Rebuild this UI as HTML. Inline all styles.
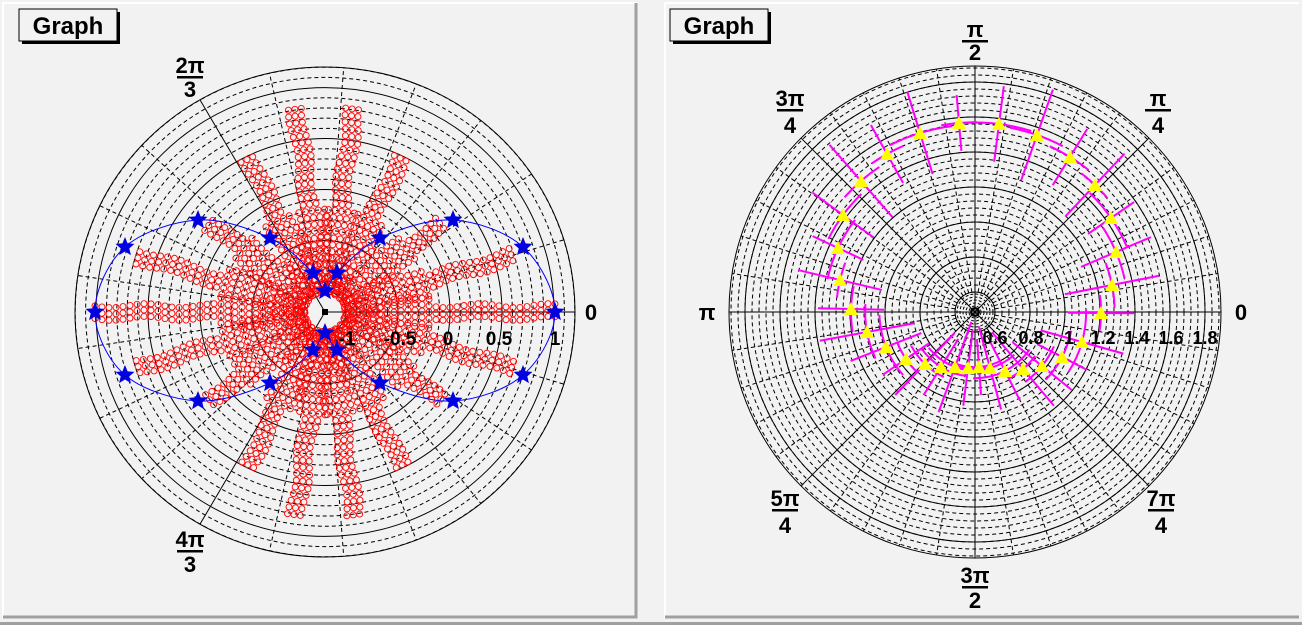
<!DOCTYPE html>
<html><head><meta charset="utf-8"><style>
html,body{margin:0;padding:0;background:#f2f2f2;}
svg{display:block;font-family:"Liberation Sans",Arial,sans-serif;}
text{font-weight:bold;fill:#000;}
</style></head><body>
<svg id="s" width="1302" height="625" xmlns="http://www.w3.org/2000/svg">
<rect x="0" y="0" width="1302" height="625" fill="#f2f2f2"/>
<rect x="0" y="622" width="1302" height="3" fill="#a0a0a0"/>
<rect x="3" y="3" width="634" height="615" fill="#f2f2f2"/>
<path d="M3 618 V3 H637" stroke="#fff" stroke-width="2" fill="none"/>
<path d="M3 617 H636 V3" stroke="#a0a0a0" stroke-width="3" fill="none"/>
<rect x="665" y="3" width="634" height="615" fill="#f2f2f2"/>
<path d="M665 618 V3 H1299" stroke="#fff" stroke-width="2" fill="none"/>
<path d="M665 617 H1299" stroke="#a0a0a0" stroke-width="3" fill="none"/>
<g id="L"></g>
<g id="R"></g>
<rect x="22" y="12" width="98" height="32" fill="#000"/>
<rect x="19" y="9" width="98" height="32" fill="#f2f2f2" stroke="#000" stroke-width="1"/>
<text x="68" y="34" font-size="24" text-anchor="middle">Graph</text>
<rect x="673" y="12" width="98" height="32" fill="#000"/>
<rect x="670" y="9" width="98" height="32" fill="#f2f2f2" stroke="#000" stroke-width="1"/>
<text x="719" y="34" font-size="24" text-anchor="middle">Graph</text>
<g font-size="22" text-anchor="middle">
<text x="190" y="73">2π</text><rect x="177" y="76" width="26" height="2.5" fill="#000"/><text x="190" y="97">3</text>
<text x="190" y="547">4π</text><rect x="177" y="550" width="26" height="2.5" fill="#000"/><text x="190" y="572">3</text>
<text x="591" y="320">0</text>
</g>
<g font-size="19" text-anchor="middle">
<text x="347" y="345">-1</text><text x="400" y="345">-0.5</text><text x="448" y="345">0</text><text x="499" y="345">0.5</text><text x="555" y="345">1</text>
</g>
<g font-size="22" text-anchor="middle">
<text x="975" y="37">π</text><rect x="962" y="40" width="26" height="2.5" fill="#000"/><text x="975" y="60">2</text>
<text x="1158" y="106">π</text><rect x="1145" y="109" width="26" height="2.5" fill="#000"/><text x="1158" y="133">4</text>
<text x="790" y="106">3π</text><rect x="777" y="109" width="26" height="2.5" fill="#000"/><text x="790" y="133">4</text>
<text x="707" y="320">π</text>
<text x="1241" y="320">0</text>
<text x="785" y="506">5π</text><rect x="772" y="509" width="26" height="2.5" fill="#000"/><text x="785" y="533">4</text>
<text x="1161" y="506">7π</text><rect x="1148" y="509" width="26" height="2.5" fill="#000"/><text x="1161" y="533">4</text>
<text x="975" y="583">3π</text><rect x="962" y="586" width="26" height="2.5" fill="#000"/><text x="975" y="608">2</text>
</g>
<g font-size="18" text-anchor="middle">
<text x="995" y="344">0.6</text><text x="1031" y="344">0.8</text><text x="1069" y="344">1</text><text x="1103" y="344">1.2</text><text x="1137" y="344">1.4</text><text x="1171" y="344">1.6</text><text x="1205" y="344">1.8</text>
</g>
</svg>
<script>
var NS="http://www.w3.org/2000/svg";
function el(p,t,a){var e=document.createElementNS(NS,t);for(var k in a)e.setAttribute(k,a[k]);p.appendChild(e);return e;}
var L=document.getElementById("L"),R=document.getElementById("R");
var cx=325,cy=312,sy=0.98;
for(var r=21;r<=250;r+=10.4){var major=Math.abs(((r-21)/52)-Math.round((r-21)/52))<0.02;
 el(L,"ellipse",{cx:cx,cy:cy,rx:r,ry:r*sy,fill:"none",stroke:"#000","stroke-width":1,"stroke-dasharray":major?"none":"4,3"});}
el(L,"ellipse",{cx:cx,cy:cy,rx:250,ry:245,fill:"none",stroke:"#000","stroke-width":1});
for(var i=0;i<21;i++){var a=i*120/7*Math.PI/180;if(i%7==0)continue;
 el(L,"line",{x1:cx+21*Math.cos(a),y1:cy-21*sy*Math.sin(a),x2:cx+250*Math.cos(a),y2:cy-245*Math.sin(a),stroke:"#000","stroke-dasharray":"4,3"});}
[0,120,240].forEach(function(d){var a=d*Math.PI/180;el(L,"line",{x1:cx,y1:cy,x2:cx+250*Math.cos(a),y2:cy-245*Math.sin(a),stroke:"#000"});});
el(L,"rect",{x:cx-3,y:cy-3,width:6,height:6,fill:"#000"});
var bands=[[0,230],[180,230],[17,200],[163,200],[-17,200],[197,200],[38,150],[142,150],[-38,150],[218,150],[64,180],[116,180],[-64,180],[244,180],[82,214],[98,214],[-82,214],[262,214]];
bands.forEach(function(b,j){var a=b[0]*Math.PI/180,c=Math.cos(a),s=Math.sin(a);
 for(var d=20;d<=b[1];d+=7){var w=d<110?[-13,-6.5,0,6.5,13]:[-6.5,0,6.5];w.forEach(function(off){
  off+=2*Math.sin(d/11+j);
  var x=cx+d*c-off*s,y=cy-(d*s+off*c)*sy;
  el(L,"circle",{cx:x,cy:y,r:3,fill:"none",stroke:"#ff0000","stroke-width":0.9});});}});
var st=[[555,312],[523,247],[453,220],[380,238],[337,273],[325,291],[313,273],[270,238],[198,220],[125,247],[95,312],[125,375],[198,401],[270,383],[313,350],[325,333],[337,350],[380,383],[453,401],[523,375]];
function cr(pts){var n=pts.length,d="M"+pts[0][0]+" "+pts[0][1];
 for(var i=0;i<n;i++){var p0=pts[(i-1+n)%n],p1=pts[i],p2=pts[(i+1)%n],p3=pts[(i+2)%n];
  d+=" C"+(p1[0]+(p2[0]-p0[0])/6)+" "+(p1[1]+(p2[1]-p0[1])/6)+" "+(p2[0]-(p3[0]-p1[0])/6)+" "+(p2[1]-(p3[1]-p1[1])/6)+" "+p2[0]+" "+p2[1];}
 return d;}
el(L,"path",{d:cr(st),fill:"none",stroke:"#0000ff","stroke-width":1});
function star(g,x,y,r,col){var d="";for(var k=0;k<10;k++){var rr=k%2?r*0.45:r,a=k*Math.PI/5;d+=(k?"L":"M")+(x+rr*Math.sin(a)).toFixed(1)+" "+(y-rr*Math.cos(a)).toFixed(1);}
 el(g,"path",{d:d+"Z",fill:col});}
st.forEach(function(p){star(L,p[0],p[1],10,"#0000e0");});
var X=975,Y=312;
for(var r=3;r<20;r+=3)el(R,"circle",{cx:X,cy:Y,r:r,fill:"none",stroke:"#000","stroke-dasharray":"3,2"});
for(var r=20;r<=246;r+=7){el(R,"circle",{cx:X,cy:Y,r:r,fill:"none",stroke:"#000","stroke-dasharray":"4,3"});}
[20,55,90,125,160,195,230,246].forEach(function(r){el(R,"circle",{cx:X,cy:Y,r:r,fill:"none",stroke:"#000"});});
for(var i=0;i<40;i++){var a=i*9*Math.PI/180;if(i%5==0)continue;
 el(R,"line",{x1:X+20*Math.cos(a),y1:Y-20*Math.sin(a),x2:X+246*Math.cos(a),y2:Y-246*Math.sin(a),stroke:"#000","stroke-dasharray":"4,3"});}
for(var i=0;i<8;i++){var a=i*45*Math.PI/180;el(R,"line",{x1:X,y1:Y,x2:X+246*Math.cos(a),y2:Y-246*Math.sin(a),stroke:"#000"});}
el(R,"circle",{cx:X,cy:Y,r:4,fill:"none",stroke:"#000","stroke-width":2});
var tp=[[959,123],[999,124],[1037,135],[1070,157],[1095,185],[1111,218],[1116,252],[1112,285],[1101,313],[1082,342],[1062,357],[1042,366],[1023,369],[1005,371],[990,368],[979,367],[968,368],[955,367],[941,367],[925,364],[906,359],[886,347],[867,332],[851,309],[840,280],[838,248],[843,215],[861,181],[887,154],[920,133]];
tp.forEach(function(p,i){var dx=p[0]-X,dy=p[1]-Y,r=Math.sqrt(dx*dx+dy*dy),ux=dx/r,uy=dy/r;
 var lr=28+(i*7%5)*5,lt=18+(i*3%4)*5;
 el(R,"line",{x1:p[0]-ux*lr,y1:p[1]-uy*lr,x2:p[0]+ux*lr,y2:p[1]+uy*lr,stroke:"#ff00ff","stroke-width":2});
 var a0=Math.atan2(-dy,dx),da=lt/r,d="";
 for(var k=0;k<=8;k++){var a=a0-da+2*da*k/8;d+=(k?"L":"M")+(X+r*Math.cos(a)).toFixed(1)+" "+(Y-r*Math.sin(a)).toFixed(1);}
 el(R,"path",{d:d,fill:"none",stroke:"#ff00ff","stroke-width":2});});
tp.forEach(function(p){el(R,"path",{d:"M"+(p[0]-7)+" "+(p[1]+6)+"L"+(p[0]+7)+" "+(p[1]+6)+"L"+p[0]+" "+(p[1]-7)+"Z",fill:"#ffff00"});});
</script>
</body></html>
